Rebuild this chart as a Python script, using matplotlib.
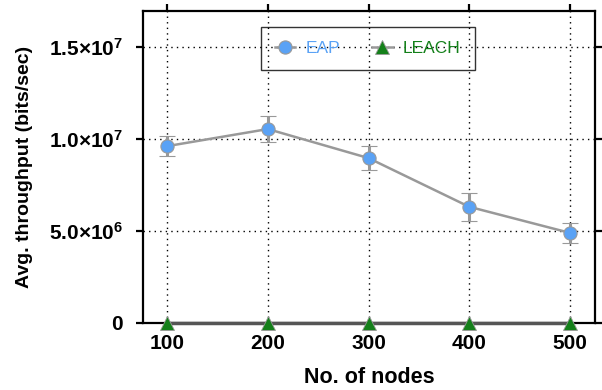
import numpy as np
import matplotlib
matplotlib.use("Agg")
import matplotlib.pyplot as plt
from matplotlib.lines import Line2D
from matplotlib.ticker import FuncFormatter

plt.rcParams['font.family'] = ['Liberation Sans', 'DejaVu Sans']
plt.rcParams['mathtext.fontset'] = 'custom'
plt.rcParams['mathtext.rm'] = 'Liberation Sans:bold'
plt.rcParams['mathtext.bf'] = 'Liberation Sans:bold'

nodes = [100, 200, 300, 400, 500]
eap_tput = [9.62e6, 10.55e6, 8.97e6, 6.32e6, 4.90e6]
eap_err = [0.54e6, 0.70e6, 0.66e6, 0.77e6, 0.55e6]
leach_tput = [0, 0, 0, 0, 0]
yticks = [0, 5e6, 1e7, 1.5e7]

EAP_C = '#5aa2f5'
LEACH_C = '#14801a'
LINE_C = '#999999'


def sci_fmt(v, pos):
    if v == 0:
        return r'$\mathbf{0}$'
    exp = int(np.floor(np.log10(v)))
    mant = v / 10 ** exp
    return r'$\mathbf{%.1f{\times}10^{%d}}$' % (mant, exp)


fig = plt.figure(figsize=(6.02, 3.90), dpi=100)
ax = fig.add_axes([0.2375, 0.172, 0.751, 0.801])

ax.errorbar(nodes, eap_tput, yerr=eap_err, color=LINE_C, lw=1.8,
            elinewidth=2.2, capsize=5.5, capthick=2.4,
            marker='o', ms=9.5, mfc=EAP_C, mec=LINE_C, mew=0.8, zorder=3)
ax.plot(nodes, leach_tput, color='#555555', lw=2.5, marker='^', ms=9.5,
        mfc=LEACH_C, mec=LINE_C, mew=0.6, zorder=4, clip_on=False)

ax.set_xlim(76, 525)
ax.set_ylim(0, 1.7e7)
ax.set_xticks(nodes)
ax.set_yticks(yticks)
ax.yaxis.set_major_formatter(FuncFormatter(sci_fmt))

ax.grid(True, color='black', linestyle=(0, (1, 3)), linewidth=1.0)
for s in ax.spines.values():
    s.set_linewidth(1.6)

ax.xaxis.set_ticks_position('both')
ax.yaxis.set_ticks_position('both')
ax.tick_params(axis='y', which='both', direction='out', length=5, width=1.6,
               left=True, right=True, labelsize=15, pad=9)
ax.tick_params(axis='x', which='both', direction='out', length=5, width=1.6,
               bottom=False, top=True, labelsize=15, pad=3)
for lab in ax.get_xticklabels():
    lab.set_fontweight('bold')

ax.set_xlabel('No. of nodes', fontsize=15.5, fontweight='bold', labelpad=10)
ax.set_ylabel('Avg. throughput (bits/sec)', fontsize=14, fontweight='bold', labelpad=12)

handles = [
    Line2D([], [], color=LINE_C, lw=1.8, marker='o', ms=9.5, mfc=EAP_C,
           mec=LINE_C, mew=0.8),
    Line2D([], [], color=LINE_C, lw=1.8, marker='^', ms=9.5, mfc=LEACH_C,
           mec=LINE_C, mew=0.6),
]
leg = ax.legend(handles, ['EAP', 'LEACH'], loc='upper center',
                bbox_to_anchor=(0.497, 0.947), ncol=2, fontsize=12.5,
                frameon=True, fancybox=False, facecolor='none',
                edgecolor='black', handlelength=1.2, columnspacing=1.8,
                handletextpad=0.6, borderpad=0.8, borderaxespad=0)
leg.get_frame().set_linewidth(1.0)
leg.texts[0].set_color(EAP_C)
leg.texts[1].set_color(LEACH_C)

fig.savefig('out.png', dpi=100)
